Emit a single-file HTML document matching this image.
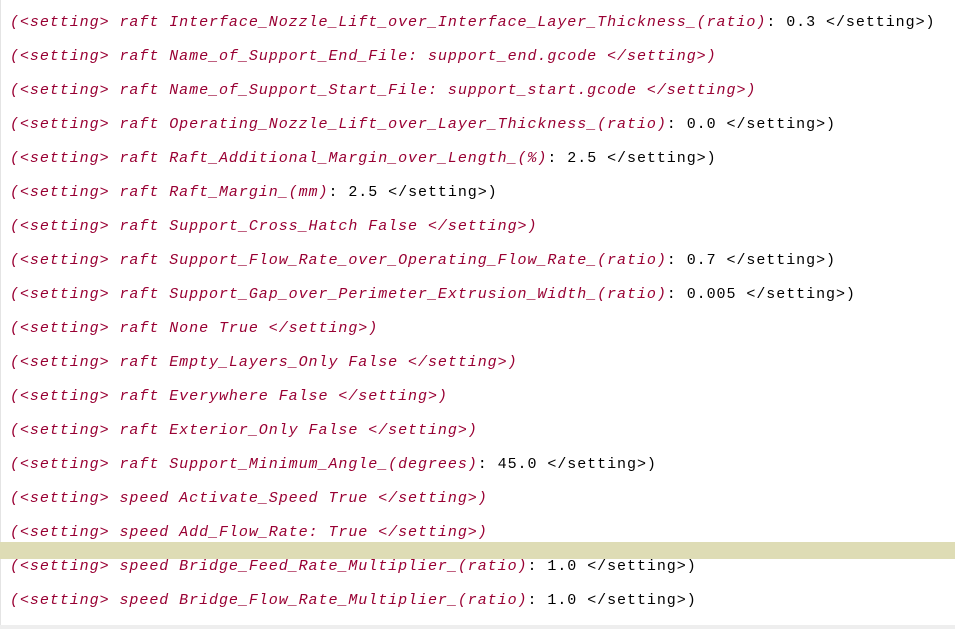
<!DOCTYPE html>
<html><head><meta charset="utf-8"><style>
html,body{margin:0;padding:0;background:#fff;width:955px;height:629px;overflow:hidden;position:relative}
.l{position:absolute;left:10px;height:20px;line-height:20px;font-family:"Liberation Mono",monospace;font-size:15px;letter-spacing:0.95px;white-space:pre;color:#000}
.r{color:#990033;font-style:italic}
#hl{position:absolute;left:0;top:542px;width:955px;height:17px;background:#dedcb5}
#lb{position:absolute;left:0;top:0;width:1px;height:626px;background:#e4e4e4}
#bb{position:absolute;left:0;top:625px;width:955px;height:4px;background:#eeeeee}
</style></head><body>
<div id="lb"></div><div id="hl"></div><div id="bb"></div>
<div class="l" style="top:13px"><span class="r">(&lt;setting&gt; raft Interface_Nozzle_Lift_over_Interface_Layer_Thickness_(ratio)</span>: 0.3 &lt;/setting&gt;)</div>
<div class="l" style="top:47px"><span class="r">(&lt;setting&gt; raft Name_of_Support_End_File: support_end.gcode &lt;/setting&gt;)</span></div>
<div class="l" style="top:81px"><span class="r">(&lt;setting&gt; raft Name_of_Support_Start_File: support_start.gcode &lt;/setting&gt;)</span></div>
<div class="l" style="top:115px"><span class="r">(&lt;setting&gt; raft Operating_Nozzle_Lift_over_Layer_Thickness_(ratio)</span>: 0.0 &lt;/setting&gt;)</div>
<div class="l" style="top:149px"><span class="r">(&lt;setting&gt; raft Raft_Additional_Margin_over_Length_(%)</span>: 2.5 &lt;/setting&gt;)</div>
<div class="l" style="top:183px"><span class="r">(&lt;setting&gt; raft Raft_Margin_(mm)</span>: 2.5 &lt;/setting&gt;)</div>
<div class="l" style="top:217px"><span class="r">(&lt;setting&gt; raft Support_Cross_Hatch False &lt;/setting&gt;)</span></div>
<div class="l" style="top:251px"><span class="r">(&lt;setting&gt; raft Support_Flow_Rate_over_Operating_Flow_Rate_(ratio)</span>: 0.7 &lt;/setting&gt;)</div>
<div class="l" style="top:285px"><span class="r">(&lt;setting&gt; raft Support_Gap_over_Perimeter_Extrusion_Width_(ratio)</span>: 0.005 &lt;/setting&gt;)</div>
<div class="l" style="top:319px"><span class="r">(&lt;setting&gt; raft None True &lt;/setting&gt;)</span></div>
<div class="l" style="top:353px"><span class="r">(&lt;setting&gt; raft Empty_Layers_Only False &lt;/setting&gt;)</span></div>
<div class="l" style="top:387px"><span class="r">(&lt;setting&gt; raft Everywhere False &lt;/setting&gt;)</span></div>
<div class="l" style="top:421px"><span class="r">(&lt;setting&gt; raft Exterior_Only False &lt;/setting&gt;)</span></div>
<div class="l" style="top:455px"><span class="r">(&lt;setting&gt; raft Support_Minimum_Angle_(degrees)</span>: 45.0 &lt;/setting&gt;)</div>
<div class="l" style="top:489px"><span class="r">(&lt;setting&gt; speed Activate_Speed True &lt;/setting&gt;)</span></div>
<div class="l" style="top:523px"><span class="r">(&lt;setting&gt; speed Add_Flow_Rate: True &lt;/setting&gt;)</span></div>
<div class="l" style="top:557px"><span class="r">(&lt;setting&gt; speed Bridge_Feed_Rate_Multiplier_(ratio)</span>: 1.0 &lt;/setting&gt;)</div>
<div class="l" style="top:591px"><span class="r">(&lt;setting&gt; speed Bridge_Flow_Rate_Multiplier_(ratio)</span>: 1.0 &lt;/setting&gt;)</div>
</body></html>
